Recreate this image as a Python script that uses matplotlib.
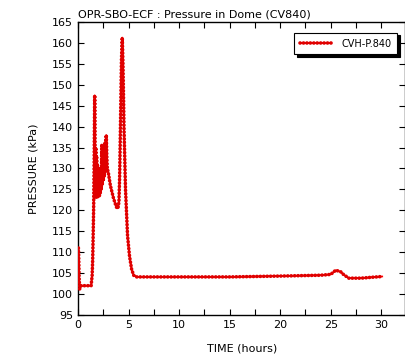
import matplotlib
matplotlib.use("Agg")
import matplotlib.pyplot as plt
from matplotlib.ticker import MultipleLocator

# CVH-P.840 dome pressure
time_h = [0.04, 0.07, 0.11, 0.16, 0.30, 0.50, 1.00, 1.30, 1.40, 1.45, 1.50, 1.55, 1.60, 1.65,
          1.68, 1.72, 1.76, 1.80, 1.84, 1.88, 1.92, 1.96, 2.00, 2.04, 2.08, 2.12, 2.16,
          2.20, 2.25, 2.30, 2.35, 2.40, 2.45, 2.50, 2.55, 2.60, 2.65, 2.70, 2.75, 2.80,
          2.85, 2.90, 3.00, 3.10, 3.20, 3.30, 3.50, 3.70, 3.85, 3.95, 4.05,
          4.12, 4.20, 4.30, 4.38, 4.45, 4.55, 4.70, 4.90, 5.10, 5.30, 5.50, 5.80,
          6.0, 10.0, 15.0, 20.0, 24.0, 25.0, 25.5, 26.0, 26.3, 26.8, 28.0, 29.0, 30.1]
pressure = [111.0, 109.0, 104.0, 101.2, 102.0, 102.0, 102.0, 102.0, 104.5, 108.0, 114.0, 121.0, 132.0, 147.5,
            138.0, 124.0, 135.0, 123.0, 133.0, 124.5, 131.0, 123.0, 130.0, 124.0, 128.5, 123.5, 129.0,
            124.0, 130.0, 125.0, 135.5, 126.0, 133.0, 127.0, 134.0, 128.0, 136.0, 129.0, 137.0, 138.0,
            133.0, 130.0, 129.0, 127.5, 126.0, 125.0, 123.0, 121.5, 120.5, 120.5, 122.0,
            128.0, 140.0, 156.0, 161.3, 155.0, 140.0, 125.0, 114.0, 109.0, 106.0, 104.5, 104.1,
            104.1, 104.1, 104.1, 104.3, 104.5, 104.7, 105.7, 105.3, 104.6, 103.8, 103.8, 104.0, 104.2]

fig = plt.figure(figsize=(4.06, 3.6), dpi=100)
ax = fig.add_axes([78 / 406, 45 / 360, 327.5 / 406, 293 / 360])

ax.plot(time_h, pressure, color="red", linewidth=1.2, zorder=3)
# beaded look of the original plot
ax.plot(time_h, pressure, color="#e00000", linewidth=2.6,
        linestyle=(0, (0.05, 0.9)), dash_capstyle="round", label="CVH-P.840", zorder=3)

ax.set_xlim(0, 32.4)
ax.set_ylim(95, 165)
ax.xaxis.set_major_locator(MultipleLocator(5))
ax.xaxis.set_minor_locator(MultipleLocator(2.5))
ax.yaxis.set_major_locator(MultipleLocator(5))
ax.tick_params(which="both", direction="in", top=True, right=True,
               length=4, width=0.8, labelsize=8)
for s in ax.spines.values():
    s.set_linewidth(1.0)
    s.set_zorder(2)

ax.set_xlabel("TIME (hours)", fontsize=8, labelpad=10)
ax.set_ylabel("PRESSURE (kPa)", fontsize=8, labelpad=10)
ax.set_title("OPR-SBO-ECF : Pressure in Dome (CV840)", fontsize=8, loc="left", pad=3)

leg = ax.legend(loc="upper right", fontsize=7, frameon=True, fancybox=False,
                shadow={"color": "black", "alpha": 1.0}, borderpad=0.6,
                handlelength=3.5, bbox_to_anchor=(0.99, 0.98))
leg.get_frame().set_edgecolor("black")
leg.get_frame().set_linewidth(0.8)

fig.savefig("out.png", dpi=100)
